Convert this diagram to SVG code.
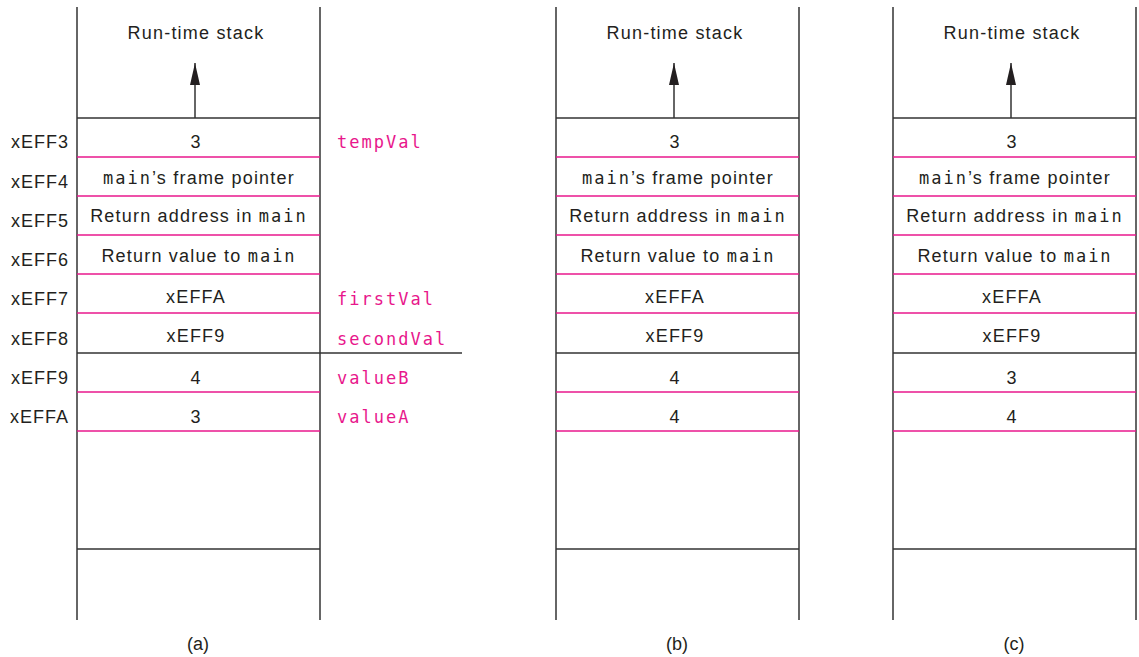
<svg xmlns="http://www.w3.org/2000/svg" width="1139" height="657" viewBox="0 0 1139 657">
<style>
.v{stroke:#333333;stroke-width:1.5;fill:none}
.k{stroke:#333333;stroke-width:1.5;fill:none}
.p{stroke:#e8178c;stroke-width:1.5;fill:none}
.t{font-family:"Liberation Sans",Arial,sans-serif;font-size:18px;letter-spacing:1.2px;fill:#231f20;text-anchor:middle}
.a{font-family:"Liberation Sans",Arial,sans-serif;font-size:18px;letter-spacing:1px;fill:#231f20;text-anchor:end}
.m{font-family:"DejaVu Sans Mono","Liberation Mono",monospace;font-size:17px;letter-spacing:2px}
.pk{font-family:"DejaVu Sans Mono","Liberation Mono",monospace;font-size:17px;letter-spacing:2px;fill:#e8178c}
.cap{font-family:"Liberation Sans",Arial,sans-serif;font-size:18px;fill:#231f20;text-anchor:middle}
</style>
<defs>
<marker id="ah" viewBox="0 0 22 10" refX="22" refY="5" markerWidth="22" markerHeight="10" markerUnits="userSpaceOnUse" orient="auto">
<path d="M0,0 L22,5 L0,10 Z" fill="#231f20"/>
</marker>
<g id="cells">
<line class="v" x1="77" y1="7" x2="77" y2="620"/>
<line class="v" x1="320" y1="7" x2="320" y2="620"/>
<line class="k" x1="77" y1="118" x2="320" y2="118"/>
<line class="p" x1="77" y1="157" x2="320" y2="157"/>
<line class="p" x1="77" y1="196" x2="320" y2="196"/>
<line class="p" x1="77" y1="235" x2="320" y2="235"/>
<line class="p" x1="77" y1="274" x2="320" y2="274"/>
<line class="p" x1="77" y1="313" x2="320" y2="313"/>
<line class="k" x1="77" y1="353" x2="320" y2="353"/>
<line class="p" x1="77" y1="392" x2="320" y2="392"/>
<line class="p" x1="77" y1="431" x2="320" y2="431"/>
<line class="k" x1="77" y1="549" x2="320" y2="549"/>
<text class="t" x="196" y="39">Run-time stack</text>
<text class="t" x="196" y="148">3</text>
<text class="t" x="199" y="184"><tspan class="m">main</tspan>’s frame pointer</text>
<text class="t" x="199" y="222">Return address in <tspan class="m">main</tspan></text>
<text class="t" x="199" y="262">Return value to <tspan class="m">main</tspan></text>
<text class="t" x="196" y="303">xEFFA</text>
<text class="t" x="196" y="342">xEFF9</text>
</g>
</defs>

<g id="panel-a">
<use href="#cells"/>
<g id="cell-a-valueB"><text class="t" x="196" y="384">4</text></g>
<g id="cell-a-valueA"><text class="t" x="196" y="423">3</text></g>
<line class="k" x1="320" y1="353" x2="462" y2="353"/>
<g id="addresses">
<text class="a" x="69" y="148">xEFF3</text>
<text class="a" x="69" y="188">xEFF4</text>
<text class="a" x="69" y="227">xEFF5</text>
<text class="a" x="69" y="266">xEFF6</text>
<text class="a" x="69" y="305">xEFF7</text>
<text class="a" x="69" y="345">xEFF8</text>
<text class="a" x="69" y="384">xEFF9</text>
<text class="a" x="69" y="423">xEFFA</text>
</g>
<g id="names">
<text class="pk" x="337" y="148">tempVal</text>
<text class="pk" x="337" y="305">firstVal</text>
<text class="pk" x="337" y="345">secondVal</text>
<text class="pk" x="337" y="384">valueB</text>
<text class="pk" x="337" y="423">valueA</text>
</g>
<text class="cap" x="198" y="650">(a)</text>
</g>

<g id="panel-b" transform="translate(479,0)">
<use href="#cells"/>
<g id="cell-b-9"><text class="t" x="196" y="384">4</text></g>
<g id="cell-b-A"><text class="t" x="196" y="423">4</text></g>
<text class="cap" x="198" y="650">(b)</text>
</g>

<g id="panel-c" transform="translate(816,0)">
<use href="#cells"/>
<g id="cell-c-9"><text class="t" x="196" y="384">3</text></g>
<g id="cell-c-A"><text class="t" x="196" y="423">4</text></g>
<text class="cap" x="198" y="650">(c)</text>
</g>

<g id="connectors">
<line class="k" x1="195" y1="118" x2="195" y2="63" marker-end="url(#ah)"/>
<line class="k" x1="674" y1="118" x2="674" y2="63" marker-end="url(#ah)"/>
<line class="k" x1="1011" y1="118" x2="1011" y2="63" marker-end="url(#ah)"/>
</g>
</svg>
